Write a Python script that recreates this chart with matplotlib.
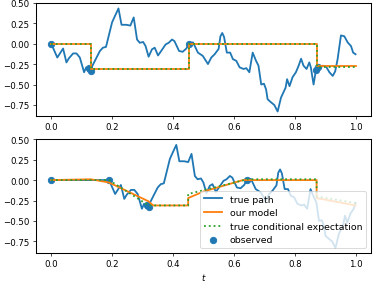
import matplotlib
matplotlib.use("Agg")
import matplotlib.pyplot as plt

# true path, top panel
top_t = [0.0, 0.02, 0.039, 0.05, 0.058, 0.072, 0.083, 0.094, 0.108, 0.115, 0.121, 0.13,
         0.149, 0.16, 0.17, 0.18, 0.2, 0.211, 0.221, 0.231, 0.247, 0.26, 0.271, 0.282,
         0.291, 0.302, 0.31, 0.32, 0.331, 0.34, 0.351, 0.365, 0.376, 0.386, 0.397, 0.405,
         0.42, 0.432, 0.444, 0.453, 0.466, 0.482, 0.498, 0.515, 0.526, 0.537, 0.55, 0.556,
         0.562, 0.568, 0.577, 0.588, 0.597, 0.608, 0.619, 0.632, 0.641, 0.651, 0.662, 0.673,
         0.681, 0.69, 0.699, 0.706, 0.711, 0.723, 0.733, 0.744, 0.755, 0.77, 0.775, 0.783,
         0.793, 0.804, 0.813, 0.821, 0.829, 0.839, 0.848, 0.853, 0.862, 0.87, 0.88, 0.892,
         0.903, 0.914, 0.925, 0.933, 0.941, 0.952, 0.963, 0.974, 0.985, 0.992, 1.0]
top_path = [0.0, -0.17, -0.06, -0.23, -0.18, -0.12, -0.12, -0.17, -0.35, -0.29, -0.34, -0.31,
            -0.17, -0.09, -0.05, -0.04, 0.26, 0.35, 0.43, 0.23, 0.23, 0.22, 0.32, 0.05,
            0.01, 0.02, -0.03, -0.16, -0.07, -0.05, -0.145, -0.07, -0.01, 0.01, 0.05, 0.03,
            -0.09, -0.10, -0.06, 0.0, 0.015, -0.11, -0.15, -0.25, -0.17, -0.13, -0.065, 0.09,
            0.13, 0.08, -0.11, -0.11, -0.19, -0.21, -0.29, -0.31, -0.30, -0.35, -0.11, -0.21,
            -0.27, -0.50, -0.49, -0.56, -0.68, -0.72, -0.75, -0.83, -0.66, -0.54, -0.435, -0.52,
            -0.41, -0.35, -0.27, -0.185, -0.27, -0.31, -0.23, -0.29, -0.50, -0.32, -0.31, -0.27,
            -0.28, -0.35, -0.395, -0.34, -0.19, 0.10, 0.09, 0.015, -0.03, -0.11, -0.13]

top_obs_t = [0.0, 0.125, 0.132, 0.453, 0.870, 0.876]
top_obs = [0.0, -0.30, -0.33, 0.0, -0.32, -0.28]

top_model_t = [0.0, 0.13, 0.13, 0.453, 0.453, 0.872, 0.872, 1.0]
top_model = [0.0, 0.0, -0.31, -0.31, 0.0, 0.0, -0.27, -0.27]
top_cond_t = [0.0, 0.13, 0.13, 0.453, 0.453, 0.872, 0.872, 1.0]
top_cond = [0.0, 0.0, -0.31, -0.31, 0.0, 0.0, -0.29, -0.29]

# true path, bottom panel
bot_t = [0.0, 0.19, 0.21, 0.229, 0.24, 0.248, 0.262, 0.273, 0.284, 0.298, 0.305, 0.311,
         0.32, 0.339, 0.35, 0.36, 0.37, 0.39, 0.401, 0.411, 0.421, 0.437, 0.45, 0.461,
         0.472, 0.481, 0.492, 0.5, 0.51, 0.521, 0.53, 0.541, 0.555, 0.566, 0.576, 0.587,
         0.595, 0.61, 0.622, 0.634, 0.643, 0.656, 0.672, 0.688, 0.705, 0.716, 0.727, 0.74,
         0.746, 0.752, 0.758, 0.767, 0.778, 0.787, 0.798, 0.809, 0.822, 0.831, 0.841, 0.852,
         0.863, 0.871, 0.88, 0.889, 0.896, 0.901, 0.913, 0.923, 0.934, 0.945, 0.96, 0.965,
         0.973, 0.983, 0.994, 1.0]
bot_path = [0.0, 0.0, -0.17, -0.06, -0.23, -0.18, -0.12, -0.12, -0.17, -0.35, -0.29, -0.34,
            -0.31, -0.17, -0.09, -0.05, -0.04, 0.26, 0.35, 0.43, 0.23, 0.23, 0.22, 0.32,
            0.05, 0.01, 0.02, -0.03, -0.16, -0.07, -0.05, -0.145, -0.07, -0.01, 0.01, 0.05,
            0.03, -0.09, -0.10, -0.06, 0.0, 0.015, -0.11, -0.15, -0.25, -0.17, -0.13, -0.065,
            0.09, 0.13, 0.08, -0.11, -0.11, -0.19, -0.21, -0.29, -0.31, -0.30, -0.35, -0.11,
            -0.21, -0.27, -0.50, -0.49, -0.56, -0.68, -0.72, -0.75, -0.83, -0.66, -0.54, -0.435,
            -0.52, -0.41, -0.35, -0.28]

bot_obs_t = [0.0, 0.19, 0.315, 0.322, 0.643]
bot_obs = [0.0, 0.0, -0.30, -0.33, 0.0]

bot_model_t = [0.0, 0.13, 0.19, 0.32, 0.335, 0.45, 0.45, 0.50, 0.63, 0.872, 0.872, 1.0]
bot_model = [0.0, 0.01, -0.03, -0.26, -0.31, -0.31, -0.22, -0.14, 0.0, 0.0, -0.22, -0.31]
bot_cond_t = [0.0, 0.19, 0.32, 0.45, 0.45, 0.645, 0.872, 0.872, 1.0]
bot_cond = [0.0, 0.0, -0.31, -0.31, -0.17, 0.01, 0.01, -0.20, -0.28]

fig, axes = plt.subplots(2, 1, figsize=(6.0, 4.568))
fig.subplots_adjust(left=0.0965, right=0.994, top=0.987, bottom=0.106, hspace=0.2)

panels = [
    (top_t, top_path, top_model_t, top_model, top_cond_t, top_cond, top_obs_t, top_obs),
    (bot_t, bot_path, bot_model_t, bot_model, bot_cond_t, bot_cond, bot_obs_t, bot_obs),
]
for ax, (t, path, mt, m, ct, c, ot, o) in zip(axes, panels):
    ax.plot(t, path, color="C0", lw=2.1, label="true path")
    ax.plot(mt, m, color="C1", lw=2.1, label="our model")
    ax.plot(ct, c, color="C2", lw=2.1, linestyle=":", label="true conditional expectation")
    ax.scatter(ot, o, color="C0", s=55, label="observed")
    ax.set_xlim(-0.05, 1.05)
    ax.set_ylim(-0.89, 0.50)
    ax.set_yticks([-0.75, -0.5, -0.25, 0.0, 0.25, 0.5])
    for s in ax.spines.values():
        s.set_linewidth(1.2)

axes[1].legend(loc="lower right", fontsize=10.8)
axes[1].set_xlabel("$t$")

fig.savefig("out.png", dpi=62.17)
